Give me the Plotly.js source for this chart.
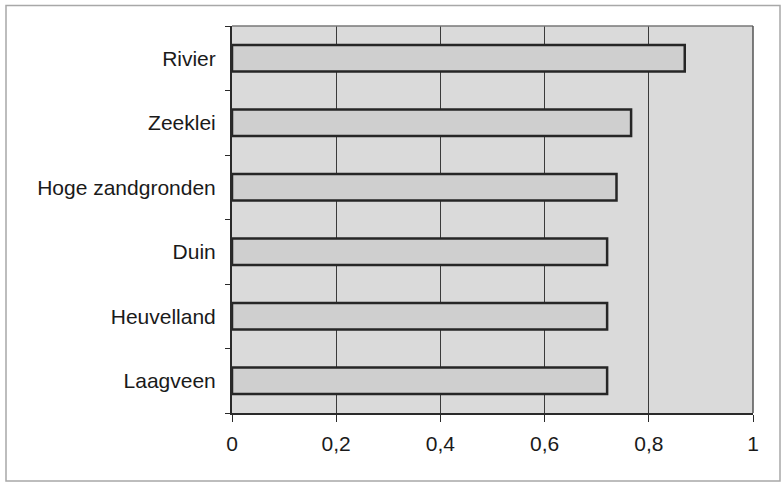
<!DOCTYPE html>
<html>
<head>
<meta charset="utf-8">
<script src="https://cdn.plot.ly/plotly-3.0.1.min.js"></script>
<style>
  html, body { margin: 0; padding: 0; background: #ffffff; }
  #chart { width: 782px; height: 483px; }
</style>
</head>
<body>
<div id="chart"></div>
<script>
// Categories listed bottom to top
const categories = ["Laagveen", "Heuvelland", "Duin", "Hoge zandgronden", "Zeeklei", "Rivier"];
const values = [0.72, 0.72, 0.72, 0.738, 0.766, 0.869];
const xTickValues = [0, 0.2, 0.4, 0.6, 0.8, 1];

const trace = {
  type: "bar",
  orientation: "h",
  y: categories,
  x: values,
  width: 0.41,
  marker: {
    color: "#cfcfcf",
    line: { color: "#262626", width: 2.5 }
  },
  hoverinfo: "x+y"
};

const layout = {
  width: 782,
  height: 483,
  margin: { l: 232, r: 29, t: 26, b: 70 },
  paper_bgcolor: "#ffffff",
  plot_bgcolor: "#dadada",
  separators: ", ",
  showlegend: false,
  font: { family: "Liberation Sans, Arial, sans-serif", size: 21, color: "#1a1a1a" },
  xaxis: {
    range: [0, 1],
    tickvals: xTickValues,
    tickformat: ".1~f",
    showgrid: true,
    gridcolor: "#3a3a3a",
    gridwidth: 1,
    zeroline: false,
    showline: true,
    linecolor: "#2a2a2a",
    linewidth: 2,
    mirror: false,
    ticks: "outside",
    ticklen: 7,
    tickcolor: "#2a2a2a",
    tickwidth: 1,
    ticklabelstandoff: 4,
    fixedrange: true
  },
  yaxis: {
    type: "category",
    categoryorder: "array",
    categoryarray: categories,
    showgrid: false,
    showline: true,
    linecolor: "#2a2a2a",
    linewidth: 2,
    ticks: "outside",
    tickson: "boundaries",
    ticklen: 5,
    tickcolor: "#2a2a2a",
    tickwidth: 1,
    ticklabelstandoff: 10,
    fixedrange: true
  },
  shapes: [
    // Plot area top & right border
    { type: "line", xref: "paper", yref: "paper", x0: 0, x1: 1, y0: 1, y1: 1,
      line: { color: "#777777", width: 1.5 } },
    { type: "line", xref: "paper", yref: "paper", x0: 1, x1: 1, y0: 0, y1: 1,
      line: { color: "#555555", width: 1.5 } },
    // Outer chart frame
    { type: "rect", xref: "paper", yref: "paper",
      x0: (6 - 232) / 521, x1: (780 - 232) / 521,
      y0: -(481 - 413) / 387, y1: 1 + (26 - 5.5) / 387,
      line: { color: "#a8a8a8", width: 1.5 }, layer: "below" }
  ]
};

Plotly.newPlot("chart", [trace], layout, { displayModeBar: false, staticPlot: true });
</script>
</body>
</html>
